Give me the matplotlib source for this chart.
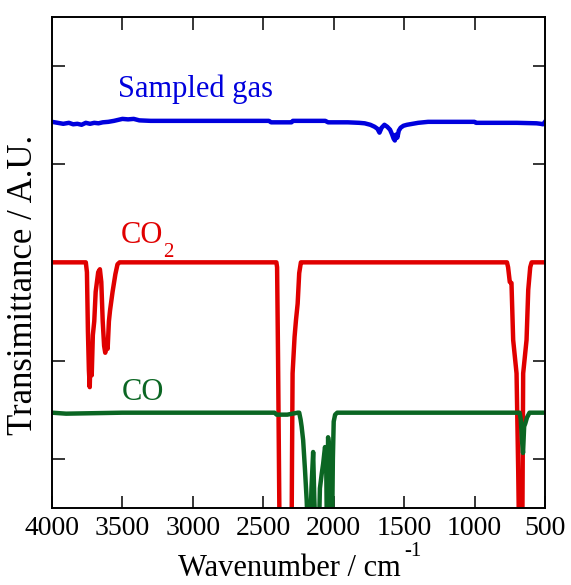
import numpy as np
import matplotlib
matplotlib.use('Agg')
import matplotlib.pyplot as plt

plt.rcParams['font.family'] = ['Liberation Serif', 'DejaVu Serif']

# wavenumber (cm-1) / offset transmittance
gas_wn = [4000, 3960, 3920, 3880, 3850, 3820, 3790, 3760, 3730, 3700, 3670, 3640,
          3600, 3560, 3530, 3500, 3460, 3420, 3380, 3300, 3000, 2700, 2460, 2445,
          2300, 2290, 2060, 2040, 1900, 1820, 1780, 1740, 1710, 1690, 1675, 1660,
          1640, 1620, 1600, 1585, 1575, 1566, 1558, 1548, 1538, 1525, 1505, 1480,
          1440, 1400, 1330, 1000, 990, 700, 560, 530, 515, 505, 500]
gas_val = [3.93, 3.92, 3.91, 3.92, 3.905, 3.91, 3.90, 3.92, 3.91, 3.92, 3.915, 3.925,
           3.93, 3.94, 3.95, 3.96, 3.955, 3.96, 3.945, 3.94, 3.94, 3.94, 3.94, 3.925,
           3.925, 3.94, 3.94, 3.925, 3.925, 3.92, 3.915, 3.90, 3.88, 3.86, 3.82, 3.87,
           3.90, 3.88, 3.85, 3.80, 3.76, 3.74, 3.80, 3.77, 3.84, 3.87, 3.89, 3.90,
           3.91, 3.92, 3.93, 3.93, 3.92, 3.92, 3.915, 3.91, 3.905, 3.92, 3.93]

co2_wn = [4000, 3760, 3752, 3745, 3738, 3732, 3726, 3718, 3710, 3700, 3690, 3672,
          3660, 3650, 3640, 3630, 3622, 3614, 3605, 3596, 3588, 3570, 3550, 3535,
          3520, 2407, 2402, 2395, 2383, 2300, 2296, 2292, 2278, 2268, 2256, 2245,
          2233, 2228, 770, 762, 750, 738, 726, 702, 690, 682, 662, 655, 631, 619,
          605, 595, 500]
co2_val = [2.5, 2.5, 2.4, 1.8, 1.4, 1.23, 1.6, 1.35, 1.76, 1.9, 2.2, 2.4,
           2.43, 2.3, 1.9, 1.65, 1.58, 1.7, 1.62, 1.9, 2.01, 2.2, 2.38, 2.48,
           2.5, 2.5, 2.45, 1.5, -0.5, -0.5, 0.5, 1.37, 1.74, 1.91, 2.08, 2.39,
           2.5, 2.5, 2.5, 2.45, 2.3, 2.29, 1.71, 1.37, 0.36, -0.5, -0.5, 1.37, 1.71, 2.22,
           2.45, 2.5, 2.5]

co_wn = [4000, 3900, 3700, 3500, 2420, 2405, 2330, 2255, 2245, 2235, 2228, 2217,
         2204, 2192, 2182, 2168, 2158, 2146, 2138, 2128, 2106, 2098, 2085, 2075,
         2062, 2054, 2048, 2044, 2040, 2035, 2028, 2012, 2006, 2000, 1990, 1975,
         1000, 680, 672, 664, 656, 648, 640, 628, 610, 500]
co_val = [0.97, 0.96, 0.965, 0.97, 0.97, 0.95, 0.95, 0.97, 0.97, 0.9, 0.83, 0.69,
          0.39, 0.08, -0.3, -0.3, 0.2, 0.57, 0.1, -0.3, -0.3, 0.2, 0.35, 0.45,
          0.62, 0.55, -0.3, -0.3, 0.72, 0.65, -0.3, -0.3, 0.5, 0.88, 0.95, 0.97,
          0.97, 0.97, 0.9, 0.7, 0.56, 0.83, 0.86, 0.92, 0.97, 0.97]

xticks = [4000, 3500, 3000, 2500, 2000, 1500, 1000, 500]
yticks = [0.5, 1.5, 2.5, 3.5, 4.5]

blue = '#0000dd'
red = '#e00000'
green = '#0b6623'

fig = plt.figure(figsize=(5.71, 5.85), dpi=100)
ax = fig.add_axes([52/571, 1 - 508/585, 493/571, 491.3/585])

ax.plot(gas_wn, gas_val, color=blue, lw=3.2)
ax.plot(co2_wn, co2_val, color=red, lw=3.2)
ax.plot(co_wn, co_val, color=green, lw=3.2)

ax.text(3531, 4.186, 'Sampled gas', color=blue, fontsize=22, va='baseline')
ax.text(3512, 2.694, 'CO', color=red, fontsize=22, va='baseline')
ax.text(3214, 2.554, '2', color=red, fontsize=15, va='baseline')
ax.text(3505, 1.099, 'CO', color=green, fontsize=22, va='baseline')

ax.set_xlim(4000, 500)
ax.set_ylim(0, 5)
ax.set_xticks(xticks)
ax.set_yticks(yticks)
ax.set_yticklabels([])
ax.tick_params(direction='in', length=9, width=1.1, top=True, right=True,
               labelsize=20, pad=6)
for s in ax.spines.values():
    s.set_linewidth(1.4)

# x label with a plain hyphen superscript, as in the original
fig.text(178/571, 1 - 576/585, 'Wavenumber / cm', fontsize=22,
         ha='left', va='baseline')
fig.text(404/571, 1 - 556/585, '-1', fontsize=15, ha='left', va='baseline')
fig.text(24/571, 1 - 285/585, 'Transimittance / A.U.', fontsize=25,
         rotation=90, ha='center', va='center')

fig.savefig('out.png', dpi=100)
